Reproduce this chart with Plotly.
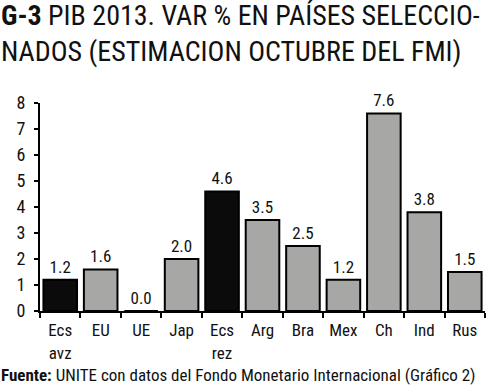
import plotly.graph_objects as go

categories = ["Ecs<br>avz", "EU", "UE", "Jap", "Ecs<br>rez", "Arg", "Bra", "Mex", "Ch", "Ind", "Rus"]
values = [1.2, 1.6, 0.0, 2.0, 4.6, 3.5, 2.5, 1.2, 7.6, 3.8, 1.5]
value_labels = ["1.2", "1.6", "0.0", "2.0", "4.6", "3.5", "2.5", "1.2", "7.6", "3.8", "1.5"]
bar_colors = ["#0b0b0b", "#a7a7a5", "#a7a7a5", "#a7a7a5", "#0b0b0b", "#a7a7a5",
              "#a7a7a5", "#a7a7a5", "#a7a7a5", "#a7a7a5", "#a7a7a5"]
y_ticks = [0, 1, 2, 3, 4, 5, 6, 7, 8]
title_line1 = "<b>G-3</b> PIB 2013. VAR % EN PAÍSES SELECCIO-"
title_line2 = "NADOS (ESTIMACION OCTUBRE DEL FMI)"
source_text = "<b>Fuente:</b> UNITE con datos del Fondo Monetario Internacional (Gráfico 2)"

FONT = "Roboto Condensed, DejaVu Sans Condensed, sans-serif"
TXT = "#111111"

fig = go.Figure()
fig.add_trace(go.Bar(
    x=list(range(len(categories))), y=values,
    marker=dict(color=bar_colors, line=dict(color="#000000", width=2)),
    width=0.83,
    text=value_labels, textposition="outside", cliponaxis=False,
    textfont=dict(size=17, color=TXT, family=FONT),
    showlegend=False, hoverinfo="skip",
))

fig.update_layout(
    width=500, height=392,
    margin=dict(l=40, r=15, t=103, b=81, autoexpand=False),
    paper_bgcolor="white", plot_bgcolor="white",
    font=dict(family=FONT, color=TXT),
)
fig.update_xaxes(
    tickmode="array", tickvals=list(range(len(categories))), ticktext=categories,
    range=[-0.5, len(categories) - 0.5], automargin=False,
    showline=True, linecolor="#000000", linewidth=2,
    ticks="", showgrid=False, zeroline=False, ticklabelstandoff=3,
    tickfont=dict(size=17, family=FONT, color=TXT),
    minor=dict(tickmode="array", tickvals=[i - 0.5 for i in range(len(categories) + 1)],
               ticks="outside", ticklen=5, tickwidth=2, tickcolor="#000000"),
)
fig.update_yaxes(
    range=[0, 8], tickvals=y_ticks, automargin=False,
    showline=True, linecolor="#000000", linewidth=2,
    ticks="outside", ticklen=4, tickwidth=2, tickcolor="#000000",
    showgrid=False, zeroline=False, ticklabelstandoff=5,
    tickfont=dict(size=18, family=FONT, color=TXT),
)

fig.add_annotation(
    x=0, y=1, xref="paper", yref="paper", xanchor="left", yanchor="middle",
    xshift=-41, yshift=88, text=title_line1, align="left", showarrow=False,
    font=dict(size=28, family=FONT, color=TXT),
)
fig.add_annotation(
    x=0, y=1, xref="paper", yref="paper", xanchor="left", yanchor="middle",
    xshift=-41, yshift=52, text=title_line2, align="left", showarrow=False,
    font=dict(size=28, family=FONT, color=TXT),
)
fig.add_annotation(
    x=0, y=0, xref="paper", yref="paper", xanchor="left", yanchor="middle",
    xshift=-41, yshift=-64, text=source_text, align="left", showarrow=False,
    font=dict(size=17, family=FONT, color=TXT),
)

fig.write_html("out.html", config={"displayModeBar": False},
               post_script="document.body.style.margin='0';")
